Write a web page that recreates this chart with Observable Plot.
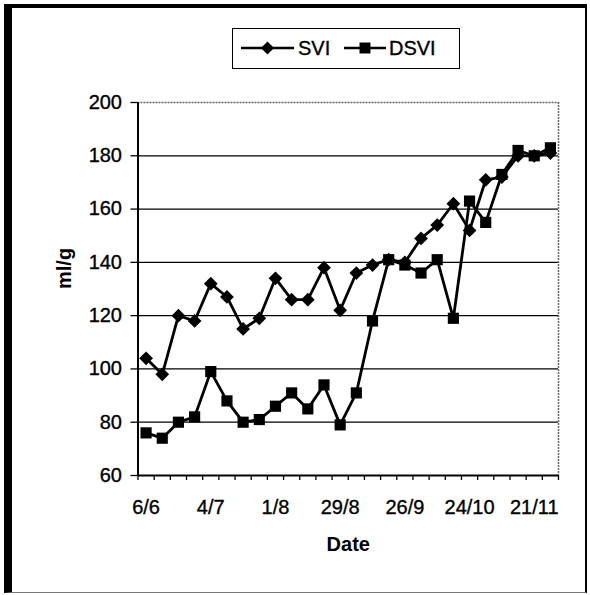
<!DOCTYPE html>
<html>
<head>
<meta charset="utf-8">
<script src="https://cdn.jsdelivr.net/npm/d3@7"></script>
<script src="https://cdn.jsdelivr.net/npm/@observablehq/plot@0.6"></script>
<style>
  html, body { margin: 0; padding: 0; background: white; }
  #wrap { position: relative; width: 590px; height: 595px; overflow: hidden; font-family: Arial, "Liberation Sans", sans-serif; }
  #frame { position: absolute; left: 4px; top: 4px; width: 583px; height: 589px; box-sizing: border-box;
           border-top: 4px solid black; border-left: 8px solid black; border-right: 2px solid black; border-bottom: 1px solid #777; pointer-events: none; }
  #legend { position: absolute; left: 232px; top: 28px; width: 228px; height: 41px; box-sizing: border-box; border: 1.5px solid black; background: white; }
  #chart svg g[aria-label="y-axis tick label"] text, #chart svg g[aria-label="x-axis tick label"] text { stroke: black; stroke-width: 0.35px; }
</style>
</head>
<body>
<div id="wrap">
  <div id="chart"></div>
  <div id="frame"></div>
  <div id="legend"></div>
</div>
<script>
const dates = ["6/6","13/6","20/6","27/6","4/7","11/7","18/7","25/7","1/8","8/8","15/8","22/8","29/8","5/9","12/9","19/9","26/9","3/10","10/10","17/10","24/10","31/10","7/11","14/11","21/11","28/11"];
const svi  = [104, 98,120,118,132,127,115,119,134,126,126,138,122,136,139,141,140,149,154,162,152,171,172,180,180,181];
const dsvi = [ 76, 74, 80, 82, 99, 88, 80, 81, 86, 91, 85, 94, 79, 91,118,141,139,136,141,119,163,155,173,182,180,183];
const yTicks = [60, 80, 100, 120, 140, 160, 180, 200];
const gridValues = [80, 100, 120, 140, 160, 180];
const labelEvery = 4;
const seriesNames = ["SVI", "DSVI"];

const sviRows = dates.map((d, i) => ({i, date: d, value: svi[i]}));
const dsviRows = dates.map((d, i) => ({i, date: d, value: dsvi[i]}));

const chart = Plot.plot({
  width: 590,
  height: 595,
  marginLeft: 137.5,
  marginRight: 32,
  marginTop: 102,
  marginBottom: 120,
  style: {fontFamily: "Arial, 'Liberation Sans', sans-serif", fontSize: "20px", color: "black", background: "transparent", overflow: "visible"},
  x: {type: "linear", domain: [-0.5, dates.length - 0.5]},
  y: {domain: [60, 200]},
  marks: [
    Plot.ruleY(gridValues, {stroke: "black", strokeWidth: 1.3}),
    Plot.ruleY([200], {stroke: "#666", strokeWidth: 1.5, strokeDasharray: "2,1"}),
    Plot.ruleX([dates.length - 0.5], {stroke: "#666", strokeWidth: 1.5, strokeDasharray: "2,1"}),
    Plot.ruleX([-0.5], {stroke: "black", strokeWidth: 2}),
    Plot.ruleY([60], {stroke: "black", strokeWidth: 2}),
    Plot.axisY(yTicks, {tickSize: 7, tickPadding: 9, strokeWidth: 1.3, label: null, fontSize: 20}),
    Plot.axisX(d3.range(-0.5, dates.length, 1), {tickSize: 5, strokeWidth: 1.3, tickFormat: () => "", label: null}),
    Plot.axisX(d3.range(0, dates.length, labelEvery), {tickSize: 0, tickPadding: 24, tickFormat: i => dates[i], label: null, fontSize: 20}),
    Plot.text(["Date"], {frameAnchor: "bottom", dy: 75, fontWeight: "bold", fontSize: 20}),
    Plot.text(["ml/g"], {frameAnchor: "left", dx: -73, rotate: -90, fontWeight: "bold", fontSize: 20}),
    Plot.line(dsviRows, {x: "i", y: "value", stroke: "black", strokeWidth: 2.8}),
    Plot.line(sviRows, {x: "i", y: "value", stroke: "black", strokeWidth: 2.8}),
    Plot.dot(dsviRows, {x: "i", y: "value", symbol: "square", r: 6.3, fill: "black"}),
    Plot.dot(sviRows, {x: "i", y: "value", symbol: "diamond2", r: 6.2, fill: "black"})
  ]
});
document.getElementById("chart").appendChild(chart);

// Legend
const lg = d3.select("#legend").append("svg").attr("width", 225).attr("height", 38)
  .style("font-family", "Arial, 'Liberation Sans', sans-serif").style("font-size", "20px");
const items = [
  {name: seriesNames[0], x1: 8, x2: 61, sym: d3.symbolDiamond2, size: 110, tx: 65},
  {name: seriesNames[1], x1: 111, x2: 153, sym: d3.symbolSquare, size: 120, tx: 156}
];
items.forEach(it => {
  const cy = 19;
  lg.append("line").attr("x1", it.x1).attr("x2", it.x2).attr("y1", cy).attr("y2", cy).attr("stroke", "black").attr("stroke-width", 2.5);
  lg.append("path").attr("d", d3.symbol(it.sym, it.size)()).attr("transform", `translate(${(it.x1 + it.x2) / 2},${cy})`).attr("fill", "black");
  lg.append("text").attr("x", it.tx).attr("y", cy).attr("dy", "0.35em").attr("stroke", "black").attr("stroke-width", 0.35).text(it.name);
});
</script>
</body>
</html>
